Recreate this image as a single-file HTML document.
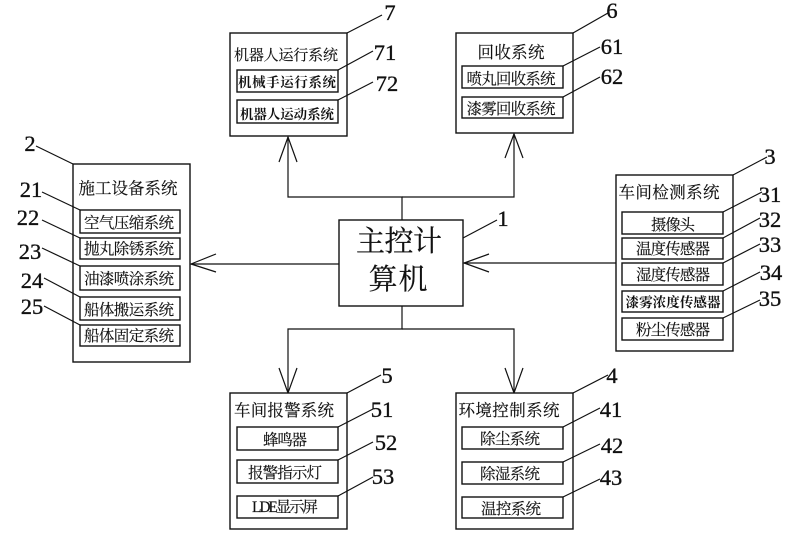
<!DOCTYPE html>
<html><head><meta charset="utf-8"><style>
html,body{margin:0;padding:0;background:#fff;width:800px;height:534px;overflow:hidden}
svg{display:block}
rect{fill:#fff;stroke:#111;stroke-width:1.4}
line,polyline{fill:none;stroke:#111;stroke-width:1.2}
.t{font-family:"Liberation Serif","Noto Serif CJK SC",serif;fill:#111;font-size:15.5px;text-anchor:middle;stroke:#111;stroke-width:.15}
.h{font-family:"Liberation Serif","Noto Serif CJK SC",serif;fill:#111;font-size:16.5px;text-anchor:middle;stroke:#111;stroke-width:.15}
.b{font-family:"Liberation Serif","Noto Serif CJK SC",serif;fill:#111;font-size:13.5px;font-weight:700;text-anchor:middle}
.n{font-family:"Liberation Serif",serif;fill:#111;font-size:22.5px;text-anchor:middle;stroke:#111;stroke-width:.35}
.m{font-family:"Liberation Serif","Noto Serif CJK SC",serif;fill:#111;font-size:29px;text-anchor:middle;stroke:#111;stroke-width:.2}
</style></head><body>
<svg width="800" height="534" viewBox="0 0 800 534" xmlns="http://www.w3.org/2000/svg">
<!-- connectors -->
<polyline points="402,220 402,197 288,197 288,137"/>
<polyline points="279,162 288,137 297,162"/>
<polyline points="402,197 514,197 514,134"/>
<polyline points="505,158 514,134 523,158"/>
<polyline points="402,306 402,329 288,329 288,393"/>
<polyline points="279,368 288,393 297,368"/>
<polyline points="402,329 514,329 514,393"/>
<polyline points="505,368 514,393 523,368"/>
<polyline points="339,264 191,264"/>
<polyline points="216,254 191,264 216,272"/>
<polyline points="616,263 464,263"/>
<polyline points="489,254 464,263 489,272"/>
<!-- boxes -->
<rect x="73" y="164" width="117" height="198"/>
<rect x="80" y="210" width="100" height="23"/>
<rect x="80" y="238" width="100" height="21"/>
<rect x="80" y="266" width="100" height="24"/>
<rect x="80" y="297" width="100" height="23"/>
<rect x="80" y="325" width="100" height="21"/>
<rect x="230" y="33" width="117" height="103"/>
<rect x="237" y="70" width="101" height="22"/>
<rect x="237" y="100" width="101" height="23"/>
<rect x="456" y="33" width="117" height="100"/>
<rect x="462" y="66" width="101" height="22"/>
<rect x="462" y="97" width="101" height="21"/>
<rect x="339" y="220" width="124" height="86"/>
<rect x="616" y="175" width="117" height="176"/>
<rect x="622" y="212" width="101" height="22"/>
<rect x="622" y="238" width="101" height="21"/>
<rect x="622" y="263" width="101" height="22"/>
<rect x="622" y="291" width="101" height="21"/>
<rect x="622" y="318" width="101" height="22"/>
<rect x="230" y="393" width="117" height="136"/>
<rect x="237" y="427" width="101" height="23"/>
<rect x="237" y="460" width="101" height="23"/>
<rect x="237" y="496" width="101" height="22"/>
<rect x="456" y="393" width="117" height="136"/>
<rect x="462" y="427" width="101" height="22"/>
<rect x="462" y="462" width="101" height="22"/>
<rect x="462" y="497" width="101" height="21"/>
<!-- leaders -->
<line x1="36" y1="146" x2="73" y2="164"/>
<line x1="42" y1="192" x2="80" y2="210"/>
<line x1="42" y1="220" x2="80" y2="238"/>
<line x1="42" y1="248" x2="80" y2="266"/>
<line x1="44" y1="278" x2="80" y2="297"/>
<line x1="44" y1="306" x2="80" y2="325"/>
<line x1="347" y1="33" x2="382" y2="15"/>
<line x1="338" y1="70" x2="373" y2="51"/>
<line x1="338" y1="100" x2="373" y2="82"/>
<line x1="573" y1="33" x2="608" y2="13"/>
<line x1="563" y1="66" x2="600" y2="47"/>
<line x1="563" y1="97" x2="600" y2="77"/>
<line x1="463" y1="238" x2="497" y2="220"/>
<line x1="733" y1="175" x2="767" y2="157"/>
<line x1="723" y1="212" x2="762" y2="192"/>
<line x1="723" y1="238" x2="760" y2="218"/>
<line x1="723" y1="263" x2="760" y2="244"/>
<line x1="723" y1="291" x2="760" y2="272"/>
<line x1="723" y1="318" x2="760" y2="300"/>
<line x1="347" y1="393" x2="381" y2="375"/>
<line x1="338" y1="427" x2="373" y2="409"/>
<line x1="338" y1="460" x2="373" y2="442"/>
<line x1="338" y1="496" x2="373" y2="477"/>
<line x1="573" y1="393" x2="608" y2="375"/>
<line x1="563" y1="427" x2="600" y2="408"/>
<line x1="563" y1="462" x2="600" y2="444"/>
<line x1="563" y1="497" x2="600" y2="479"/>
<!-- numbers -->
<text class="n" x="30" y="151">2</text>
<text class="n" x="31" y="197">21</text>
<text class="n" x="28" y="225">22</text>
<text class="n" x="30" y="259">23</text>
<text class="n" x="32" y="288">24</text>
<text class="n" x="32" y="314">25</text>
<text class="n" x="390" y="20">7</text>
<text class="n" x="385" y="60">71</text>
<text class="n" x="387" y="91">72</text>
<text class="n" x="612" y="18">6</text>
<text class="n" x="612" y="54">61</text>
<text class="n" x="612" y="84">62</text>
<text class="n" x="503" y="226">1</text>
<text class="n" x="770" y="164">3</text>
<text class="n" x="770" y="202">31</text>
<text class="n" x="770" y="227">32</text>
<text class="n" x="770" y="252">33</text>
<text class="n" x="771" y="280">34</text>
<text class="n" x="770" y="306">35</text>
<text class="n" x="387" y="383">5</text>
<text class="n" x="382" y="417">51</text>
<text class="n" x="386" y="450">52</text>
<text class="n" x="383" y="484">53</text>
<text class="n" x="612" y="383">4</text>
<text class="n" x="611" y="417">41</text>
<text class="n" x="612" y="453">42</text>
<text class="n" x="611" y="485">43</text>
<!-- main -->
<text class="m" x="399" y="251" textLength="86" lengthAdjust="spacing">主控计</text>
<text class="m" x="398" y="289" textLength="59" lengthAdjust="spacing">算机</text>
<!-- titles -->
<text class="h" x="128" y="194" textLength="99">施工设备系统</text>
<text class="h" x="286" y="60" textLength="104" style="font-size:15px">机器人运行系统</text>
<text class="h" x="511" y="58" textLength="67">回收系统</text>
<text class="h" x="669" y="198" textLength="101">车间检测系统</text>
<text class="h" x="284" y="416" textLength="100">车间报警系统</text>
<text class="h" x="509" y="416" textLength="101">环境控制系统</text>
<!-- inner -->
<text class="t" x="129" y="228" textLength="90">空气压缩系统</text>
<text class="t" x="129" y="254" textLength="90">抛丸除锈系统</text>
<text class="t" x="129" y="284" textLength="90">油漆喷涂系统</text>
<text class="t" x="129" y="315" textLength="90">船体搬运系统</text>
<text class="t" x="129" y="341" textLength="90">船体固定系统</text>
<text class="b" x="287" y="87" textLength="98">机械手运行系统</text>
<text class="b" x="287" y="119" textLength="94">机器人运动系统</text>
<text class="t" x="511" y="84" textLength="89">喷丸回收系统</text>
<text class="t" x="511" y="114" textLength="89">漆雾回收系统</text>
<text class="t" x="673" y="230" textLength="44">摄像头</text>
<text class="t" x="673" y="254" textLength="74">温度传感器</text>
<text class="t" x="673" y="280" textLength="74">湿度传感器</text>
<text class="b" x="673" y="307" textLength="95">漆雾浓度传感器</text>
<text class="t" x="673" y="335" textLength="74">粉尘传感器</text>
<text class="t" x="285" y="445" textLength="44">蜂鸣器</text>
<text class="t" x="285" y="478" textLength="74">报警指示灯</text>
<text class="t" x="285" y="512" textLength="66">LDE显示屏</text>
<text class="t" x="510" y="444" textLength="60">除尘系统</text>
<text class="t" x="510" y="479" textLength="60">除湿系统</text>
<text class="t" x="511" y="514" textLength="60">温控系统</text>
</svg>
</body></html>
